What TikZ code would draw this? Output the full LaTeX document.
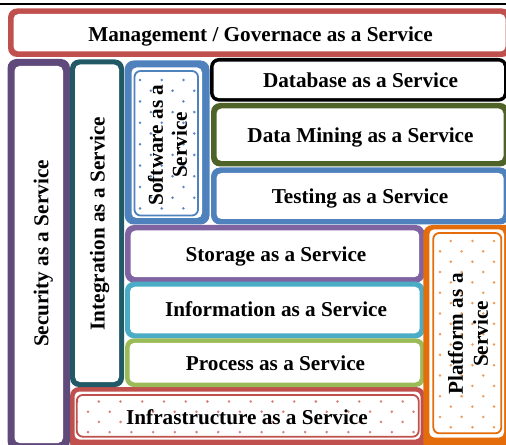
\documentclass[tikz,border=0pt]{standalone}
\usepackage{fontspec}
\setmainfont{Liberation Serif}
\usetikzlibrary{calc}
\definecolor{cRed}{HTML}{C0504D}
\definecolor{cPurple}{HTML}{604A7B}
\definecolor{cTeal}{HTML}{215967}
\definecolor{cBlue}{HTML}{4F81BD}
\definecolor{cOlive}{HTML}{4F6228}
\definecolor{cLav}{HTML}{8064A2}
\definecolor{cAqua}{HTML}{4BACC6}
\definecolor{cGreen}{HTML}{9BBB59}
\definecolor{cOrange}{HTML}{E46C0A}
\definecolor{dBlue}{HTML}{5F86C0}
\definecolor{dRed}{HTML}{D7807E}
\definecolor{dOrange}{HTML}{F09C58}
\newcommand\svcbox[6]{%
  \fill[#1, rounded corners=9bp] (#2,#3) rectangle (#4,#5);
  \fill[white, rounded corners=5bp] ($(#2,#3)+(#6,#6)$) rectangle ($(#4,#5)-(#6,#6)$);
}
\tikzset{
  txt/.style={font=\fontsize{21.2bp}{24bp}\selectfont\bfseries, inner sep=0pt},
  thinline/.style={line width=1.8bp, rounded corners=6bp},
}
\begin{document}
\begin{tikzpicture}[x=1bp,y=-1bp]
\useasboundingbox (0,0) rectangle (506,445);
\begin{scope}
\clip (0,0) rectangle (506,445);
% top rule
\draw[line width=1.8bp] (0,4.2) -- (506,4.2);
% infrastructure (behind)
\fill[cRed, rounded corners=9bp] (70,387) rectangle (425,452);
\fill[white, rounded corners=5bp] (74.5,391.5) rectangle (420.5,439.5);
\begin{scope}
\clip[rounded corners=6bp] (76.8,395) rectangle (418.7,436.7);
\foreach \j in {0,...,5}{
  \foreach \i in {-4,...,17}{
    \pgfmathsetmacro\xx{88+21.7*\i+10.85*mod(\j,2)}
    \pgfmathsetmacro\yy{391.3+10.2*\j}
    \fill[dRed] (\xx,\yy) circle (1.4);
  }
}
\end{scope}
\draw[thinline, draw=cRed] (76.8,395) rectangle (418.7,436.7);
% security
\svcbox{cPurple}{7.5}{59}{70}{450}{7}
% integration
\svcbox{cTeal}{70}{59.5}{124}{387}{5}
% management
\svcbox{cRed}{8}{8.5}{511}{57}{5.5}
% software
\fill[cBlue, rounded corners=9bp] (124.7,60.5) rectangle (209.5,224.5);
\fill[white, rounded corners=5bp] (131.5,67.5) rectangle (202,218);
\begin{scope}
\clip[rounded corners=6bp] (134.5,71) rectangle (198,215.5);
\foreach \j in {-1,...,14}{
  \foreach \i in {-2,...,4}{
    \pgfmathsetmacro\xx{140+21.7*\i+10.85*mod(\j+2,2)}
    \pgfmathsetmacro\yy{80+10.7*\j}
    \fill[dBlue] (\xx,\yy) circle (1.4);
  }
}
\end{scope}
\draw[thinline, draw=cBlue] (134.5,71) rectangle (198,215.5);
% database
\svcbox{black}{210}{58}{507.5}{101.7}{3.6}
% data mining
\svcbox{cOlive}{211}{103}{509}{166.5}{5.5}
% testing
\svcbox{cBlue}{211}{167.5}{509}{224.5}{5.5}
% storage / information / process
\svcbox{cLav}{125}{225}{424.7}{282.7}{5.5}
\svcbox{cAqua}{125}{281.7}{424.7}{338.3}{5}
\svcbox{cGreen}{125}{338.3}{424.7}{387}{4.5}
% platform
\fill[cOrange, rounded corners=9bp] (423.3,225) rectangle (516,452);
\fill[white, rounded corners=5bp] (429.3,229.3) rectangle (504,437.5);
\begin{scope}
\clip[rounded corners=6bp] (433.3,233) rectangle (501.3,433.3);
\foreach \j in {-1,...,20}{
  \foreach \i in {-2,...,4}{
    \pgfmathsetmacro\xx{440+21.6*\i+10.8*mod(\j+1,2)}
    \pgfmathsetmacro\yy{241+10.35*\j}
    \fill[dOrange] (\xx,\yy) circle (1.4);
  }
}
\end{scope}
\draw[thinline, draw=cOrange] (433.3,233) rectangle (501.3,433.3);
\end{scope}
% texts
\node[txt, anchor=base] (mg) at (260.5,41.7) {Management / Governace as a Service};
\node[txt, anchor=base] (db) at (360.5,87.3) {Database as a Service};
\node[txt, anchor=base] (dm) at (360.5,142.7) {Data Mining as a Service};
\node[txt, anchor=base] (ts) at (360,204) {Testing as a Service};
\node[txt, anchor=base] (st) at (276,261.7) {Storage as a Service};
\node[txt, anchor=base] (inf) at (276,316.7) {Information as a Service};
\node[txt, anchor=base] (pr) at (275.5,370) {Process as a Service};
\node[txt, anchor=base] (ia) at (247,424) {Infrastructure as a Service};
\node[txt, anchor=base, rotate=90] (sec) at (48.3,253.5) {Security as a Service};
\node[txt, anchor=base, rotate=90] (int) at (104.5,223.5) {Integration as a Service};
\node[txt, rotate=90, align=center] (sw) at (167.5,145) {Software as a\\Service};
\node[txt, rotate=90, align=center, font=\fontsize{21.2bp}{25bp}\selectfont\bfseries] (pf) at (468,334) {Platform as a\\Service};
\end{tikzpicture}
\end{document}
